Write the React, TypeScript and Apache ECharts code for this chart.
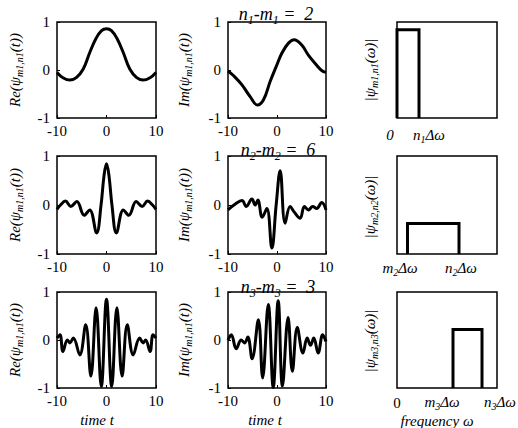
import React, { useEffect, useRef } from 'react';
import * as echarts from 'echarts';

const SERIF = '"Liberation Serif", "Times New Roman", serif';

// time-domain curves (t, value)
const re1T = [-10, -8.8, -7.4, -6.1, -4.7, -3.4, -2.1, -1.0, 0, 1.0, 2.1, 3.4, 4.7, 6.1, 7.4, 8.8, 10];
const re1V = [-0.05, -0.16, -0.21, -0.16, 0.02, 0.36, 0.66, 0.82, 0.86, 0.82, 0.66, 0.36, 0.02, -0.16, -0.21, -0.16, -0.05];

const im1T = [-10, -8.85, -7.15, -5.45, -4.0, -2.75, -1.4, -0.17, 0.98, 2.34, 3.49, 5.05, 6.4, 8.1, 9.12, 10];
const im1V = [-0.02, -0.12, -0.31, -0.56, -0.73, -0.62, -0.24, 0.07, 0.35, 0.56, 0.63, 0.52, 0.31, 0.10, -0.01, -0.05];

const re2T = [-10, -9.3, -8.3, -7.2, -6.0, -4.5, -3.4, -2.0, -1.1, -0.5, 0, 0.5, 1.1, 2.0, 3.4, 4.5, 6.0, 7.2, 8.3, 9.3, 10];
const re2V = [-0.09, 0.0, 0.08, -0.03, 0.07, -0.21, -0.1, -0.57, 0.0, 0.6, 0.84, 0.6, 0.0, -0.57, -0.1, -0.21, 0.07, -0.03, 0.08, 0.0, -0.09];

const im2T = [-10, -8.51, -7.15, -6.27, -5.12, -4.44, -3.9, -3.02, -2.07, -1.05, -0.17, 0.64, 1.66, 2.68, 3.49, 4.71, 5.59, 6.41, 7.29, 8.1, 9.12, 10];
const im2V = [-0.1, 0.02, 0.09, -0.03, 0.12, 0.0, 0.1, -0.25, -0.07, -0.88, 0.0, 0.7, -0.37, -0.03, -0.14, -0.27, -0.03, -0.1, -0.03, -0.07, 0.05, -0.1];

const re3T = [-10, -9.4, -8.8, -7.9, -7.4, -6.7, -5.4, -4.2, -3.15, -2.1, -1.05, 0, 1.05, 2.1, 3.15, 4.2, 5.4, 6.7, 7.4, 7.9, 8.8, 9.4, 10];
const re3V = [0.04, 0.11, -0.24, 0.0, -0.06, 0.04, -0.31, 0.32, -0.75, 0.67, -0.97, 0.85, -0.97, 0.67, -0.75, 0.32, -0.31, 0.04, -0.06, 0.0, -0.24, 0.11, 0.04];

const im3T = [-10, -9.33, -8.32, -7.3, -6.63, -5.96, -5.08, -3.8, -2.93, -1.78, -0.77, 0.24, 1.11, 2.26, 3.13, 4.14, 5.29, 6.16, 6.84, 7.5, 8.4, 9.33, 10];
const im3V = [0.0, 0.11, -0.18, 0.0, -0.06, 0.06, -0.39, 0.42, -0.79, 0.74, -0.99, 0.82, -0.96, 0.47, -0.65, 0.26, -0.27, 0.04, -0.11, 0.04, -0.27, 0.11, -0.03];

// spectra: band edges and height (frequency axis 0..10)
const specLow = [0, 1.05, 5.6];
const specHigh = [2.2, 6.2, 8.5];
const specLevel = [0.92, 0.31, 0.61];

const timeMin = -10, timeMax = 10, timeStep = 10;
const ampMin = -1, ampMax = 1, ampStep = 1;

const curves = [
  [re1T, re1V, im1T, im1V],
  [re2T, re2V, im2T, im2V],
  [re3T, re3V, im3T, im3V],
];

const colLeft = [57, 228, 397];
const colWidth = [99, 98, 100];
const rowTop = [22, 156, 292];
const rowHeight = [96, 98, 96];

const rich = {
  a: { fontFamily: SERIF, fontSize: 15, fontStyle: 'italic', lineHeight: 18, fill: '#000', color: '#000', verticalAlign: 'middle' },
  s: { fontFamily: SERIF, fontSize: 10, fontStyle: 'italic', lineHeight: 9, fill: '#000', color: '#000', verticalAlign: 'bottom' },
  u: { fontFamily: SERIF, fontSize: 15, lineHeight: 16, fill: '#000', color: '#000', verticalAlign: 'middle' },
  f: { fontFamily: SERIF, fontSize: 15, fontStyle: 'italic', lineHeight: 13, fill: '#000', color: '#000', verticalAlign: 'middle' },
};
const richTitle = {
  a: { fontFamily: SERIF, fontSize: 18, fontStyle: 'italic', lineHeight: 24, fill: '#000', color: '#000', verticalAlign: 'middle' },
  s: { fontFamily: SERIF, fontSize: 12, fontStyle: 'italic', lineHeight: 12, fill: '#000', color: '#000', verticalAlign: 'bottom' },
};

function txt(x: number, y: number, text: string, opts: any = {}) {
  return {
    type: 'text',
    x,
    y,
    rotation: opts.rotation || 0,
    z: 100,
    style: {
      text,
      rich: opts.rich || rich,
      fontFamily: SERIF,
      fontSize: 15,
      fill: '#000',
      align: opts.align || 'center',
      verticalAlign: 'middle',
    },
  };
}

function buildOption() {
  const grid: any[] = [];
  const xAxis: any[] = [];
  const yAxis: any[] = [];
  const series: any[] = [];
  for (let r = 0; r < 3; r++) {
    for (let c = 0; c < 3; c++) {
      const i = r * 3 + c;
      grid.push({
        left: colLeft[c], top: rowTop[r], width: colWidth[c], height: rowHeight[r],
        show: true, borderColor: '#000', borderWidth: 1.5, backgroundColor: 'transparent',
        containLabel: false, outerBoundsMode: 'none',
      });
      if (c < 2) {
        xAxis.push({
          type: 'value', gridIndex: i, min: timeMin, max: timeMax, interval: timeStep,
          axisLine: { show: false, onZero: false },
          axisTick: { show: true, inside: true, length: 3, lineStyle: { color: '#000', width: 1 } },
          axisLabel: { color: '#000', fontFamily: SERIF, fontSize: 15, margin: 5, showMinLabel: true, showMaxLabel: true, hideOverlap: false },
          splitLine: { show: false },
        });
        yAxis.push({
          type: 'value', gridIndex: i, min: ampMin, max: ampMax, interval: ampStep,
          axisLine: { show: false, onZero: false },
          axisTick: { show: true, inside: true, length: 3, lineStyle: { color: '#000', width: 1 } },
          axisLabel: { color: '#000', fontFamily: SERIF, fontSize: 15, margin: 7, showMinLabel: true, showMaxLabel: true, hideOverlap: false },
          splitLine: { show: false },
        });
        const t = curves[r][c * 2];
        const v = curves[r][c * 2 + 1];
        series.push({
          type: 'line', xAxisIndex: i, yAxisIndex: i,
          data: t.map((tt, k) => [tt, v[k]]),
          symbol: 'none', smooth: 0.4, silent: true,
          lineStyle: { color: '#000', width: 3, join: 'round' },
        });
      } else {
        xAxis.push({
          type: 'value', gridIndex: i, min: 0, max: 10,
          axisLine: { show: false, onZero: false }, axisTick: { show: false }, axisLabel: { show: false }, splitLine: { show: false },
        });
        yAxis.push({
          type: 'value', gridIndex: i, min: 0, max: 1,
          axisLine: { show: false, onZero: false }, axisTick: { show: false }, axisLabel: { show: false }, splitLine: { show: false },
        });
        const a = specLow[r], b = specHigh[r], h = specLevel[r];
        series.push({
          type: 'line', xAxisIndex: i, yAxisIndex: i,
          data: [[a, 0], [a, h], [b, h], [b, 0]],
          symbol: 'none', silent: true,
          lineStyle: { color: '#000', width: 3, join: 'miter' },
        });
      }
    }
  }

  const rowMid = [70, 205, 340];
  const graphic: any[] = [];
  for (let r = 0; r < 3; r++) {
    graphic.push(txt(15, rowMid[r], '{a|Re(ψ}{s|m1,n1}{a|(t))}', { rotation: Math.PI / 2 }));
    graphic.push(txt(184, rowMid[r], '{a|Im(ψ}{s|m1,n1}{a|(t))}', { rotation: Math.PI / 2 }));
  }
  graphic.push(txt(370, 70, '{a||ψ}{s|m1,n1}{a|(ω)|}', { rotation: Math.PI / 2 }));
  graphic.push(txt(370, 207, '{a||ψ}{s|m2,n2}{a|(ω)|}', { rotation: Math.PI / 2 }));
  graphic.push(txt(370, 341, '{a||ψ}{s|m3,n3}{a|(ω)|}', { rotation: Math.PI / 2 }));

  graphic.push(txt(276, 14, '{a|n}{s|1}{a|-m}{s|1}{a| =  2}', { rich: richTitle }));
  graphic.push(txt(278, 150, '{a|n}{s|2}{a|-m}{s|2}{a| =  6}', { rich: richTitle }));
  graphic.push(txt(278, 287, '{a|n}{s|3}{a|-m}{s|3}{a| =  3}', { rich: richTitle }));

  graphic.push(txt(390, 135, '{a|0}'));
  graphic.push(txt(429, 135, '{a|n}{s|1}{a|Δω}'));
  graphic.push(txt(400, 268, '{a|m}{s|2}{a|Δω}'));
  graphic.push(txt(461, 268, '{a|n}{s|2}{a|Δω}'));
  graphic.push(txt(397, 403, '{u|0}'));
  graphic.push(txt(442, 402, '{a|m}{s|3}{a|Δω}'));
  graphic.push(txt(484, 402, '{a|n}{s|3}{a|Δω}', { align: 'left' }));

  graphic.push(txt(97, 420, '{f|time t}'));
  graphic.push(txt(265, 420, '{f|time t}'));
  graphic.push(txt(437, 421, '{f|frequency ω}'));

  return { animation: false, backgroundColor: '#fff', grid, xAxis, yAxis, series, graphic };
}

export default function App() {
  const ref = useRef<HTMLDivElement>(null);
  useEffect(() => {
    const chart = echarts.init(ref.current!, null, { renderer: 'svg' });
    chart.setOption(buildOption() as any);
    return () => chart.dispose();
  }, []);
  return (
    <div
      ref={ref}
      style={{ position: 'fixed', left: 0, top: 0, width: 518, height: 428, background: '#fff' }}
    />
  );
}
